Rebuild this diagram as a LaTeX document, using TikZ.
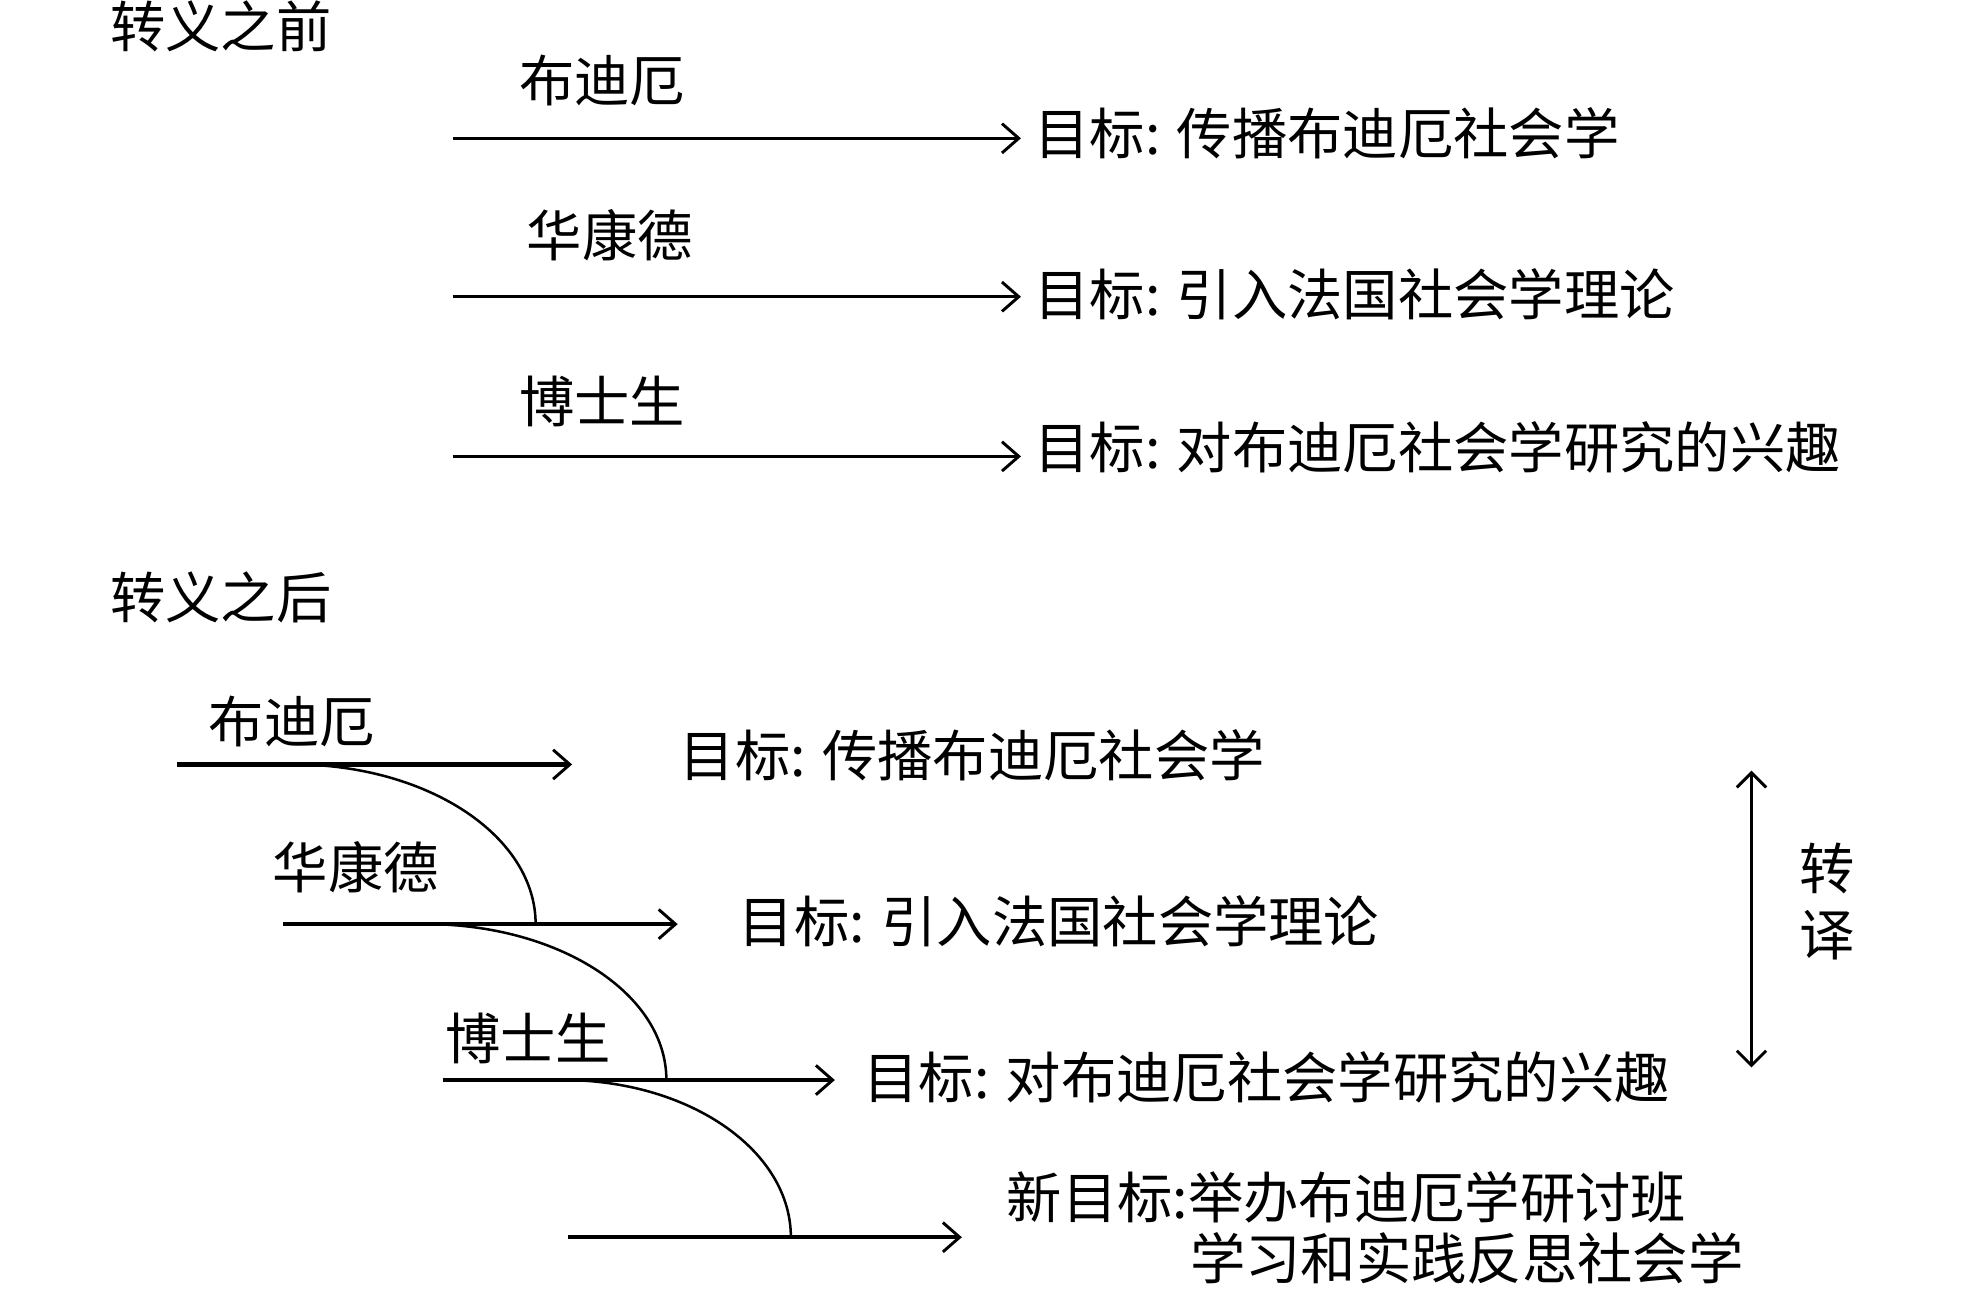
\documentclass[tikz,border=0pt]{standalone}
\usepackage{fontspec}
\setmainfont{Noto Sans CJK SC}
\usetikzlibrary{arrows.meta}
\tikzset{
  txt/.style={inner sep=0pt, font=\fontsize{13.2}{15.5}\selectfont},
  lbl/.style={txt, anchor=west},
  arrtop/.style={line width=0.75pt, -{Straight Barb[length=4pt,width=7pt,line width=0.7pt]}},
  arrbot/.style={line width=1.05pt, -{Straight Barb[length=4pt,width=7pt,line width=0.7pt]}},
  bendline/.style={line width=0.6pt},
  dbl/.style={line width=0.7pt, {Straight Barb[length=3.5pt,width=7pt,line width=0.7pt]}-{Straight Barb[length=3.5pt,width=7pt,line width=0.7pt]}}
}
\begin{document}
\begin{tikzpicture}[x=0.3pt,y=-0.3pt]
\useasboundingbox (0,0) rectangle (1566,1035);

% ---- before ----
\node[lbl] (t1) at (87,21) {转义之前};

\node[txt] (n1) at (479,64) {布迪厄};
\node[lbl] (g1) at (822,106) {目标: 传播布迪厄社会学};
\coordinate (s1) at (360,110);
\coordinate (e1) at (812,110);
\draw[arrtop] (s1) -- (e1);

\node[txt] (n2) at (485,187) {华康德};
\node[lbl] (g2) at (822,234) {目标: 引入法国社会学理论};
\coordinate (s2) at (360,236);
\coordinate (e2) at (812,236);
\draw[arrtop] (s2) -- (e2);

\node[txt] (n3) at (479,319) {博士生};
\node[lbl] (g3) at (822,356) {目标: 对布迪厄社会学研究的兴趣};
\coordinate (s3) at (360,363);
\coordinate (e3) at (812,363);
\draw[arrtop] (s3) -- (e3);

% ---- after ----
\node[lbl] (t2) at (87,475) {转义之后};

\node[txt] (b1) at (232,574) {布迪厄};
\node[lbl] (h1) at (540,601) {目标: 传播布迪厄社会学};
\coordinate (sa) at (141,608);
\coordinate (ea) at (455,608);
\draw[arrbot] (sa) -- (ea);

\node[txt] (b2) at (283,690) {华康德};
\node[lbl] (h2) at (587,733) {目标: 引入法国社会学理论};
\coordinate (sb) at (225,735);
\coordinate (eb) at (539,735);
\draw[arrbot] (sb) -- (eb);

\node[txt] (b3) at (420,826) {博士生};
\node[lbl] (h3) at (686,857) {目标: 对布迪厄社会学研究的兴趣};
\coordinate (sc) at (352,859);
\coordinate (ec) at (664,859);
\draw[arrbot] (sc) -- (ec);

\node[lbl] (h4) at (800,952) {新目标:举办布迪厄学研讨班};
\node[lbl] (h5) at (946,1001) {学习和实践反思社会学};
\coordinate (sd) at (452,984);
\coordinate (ed) at (765,984);
\draw[arrbot] (sd) -- (ed);

% curves linking goals
\coordinate (c1a) at (239,608);
\coordinate (c1b) at (426,735);
\draw[bendline] (c1a) .. controls (343,610) and (426,666) .. (c1b);
\coordinate (c2a) at (344,735);
\coordinate (c2b) at (530,859);
\draw[bendline] (c2a) .. controls (447,737) and (530,791) .. (c2b);
\coordinate (c3a) at (453,859);
\coordinate (c3b) at (629,984);
\draw[bendline] (c3a) .. controls (551,861) and (629,916) .. (c3b);

% translation arrow
\coordinate (ta) at (1393,613);
\coordinate (tb) at (1393,849);
\draw[dbl] (ta) -- (tb);
\node[txt] (z1) at (1453,691) {转};
\node[txt] (z2) at (1453,744) {译};
\end{tikzpicture}
\end{document}
